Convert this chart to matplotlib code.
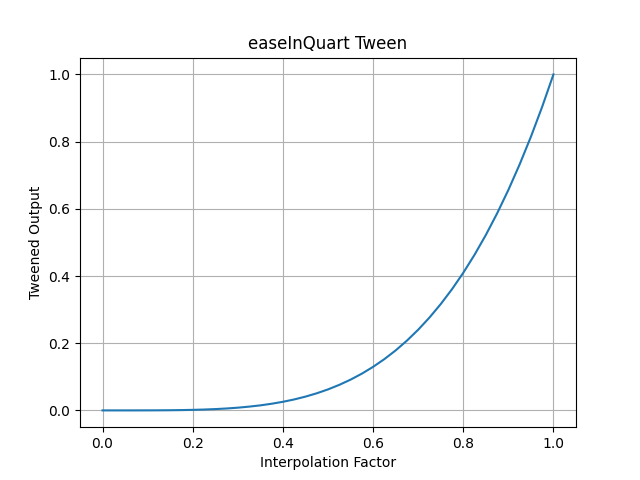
import matplotlib
matplotlib.use("Agg")
import matplotlib.pyplot as plt

# Values
factor = [0.0, 0.025, 0.05, 0.075, 0.1, 0.125, 0.15, 0.175, 0.2, 0.225,
          0.25, 0.275, 0.3, 0.325, 0.35, 0.375, 0.4, 0.425, 0.45, 0.475,
          0.5, 0.525, 0.55, 0.575, 0.6, 0.625, 0.65, 0.675, 0.7, 0.725,
          0.75, 0.775, 0.8, 0.825, 0.85, 0.875, 0.9, 0.925, 0.95, 0.975, 1.0]
output = [0.0, 0.0, 0.000006, 0.00003, 0.0001, 0.00024, 0.0005, 0.00094, 0.0016, 0.00256,
          0.0039, 0.0057, 0.0081, 0.0112, 0.0150, 0.0198, 0.0256, 0.0326, 0.0410, 0.0509,
          0.0625, 0.0760, 0.0915, 0.1093, 0.1296, 0.1526, 0.1785, 0.2076, 0.2401, 0.2763,
          0.3164, 0.3607, 0.4096, 0.4632, 0.5220, 0.5862, 0.6561, 0.7321, 0.8145, 0.9037, 1.0]

fig, ax = plt.subplots(figsize=(6.4, 4.8), dpi=100)
ax.plot(factor, output)
ax.set_title("easeInQuart Tween")
ax.set_xlabel("Interpolation Factor")
ax.set_ylabel("Tweened Output")
ax.grid(True)
fig.savefig("out.png")
